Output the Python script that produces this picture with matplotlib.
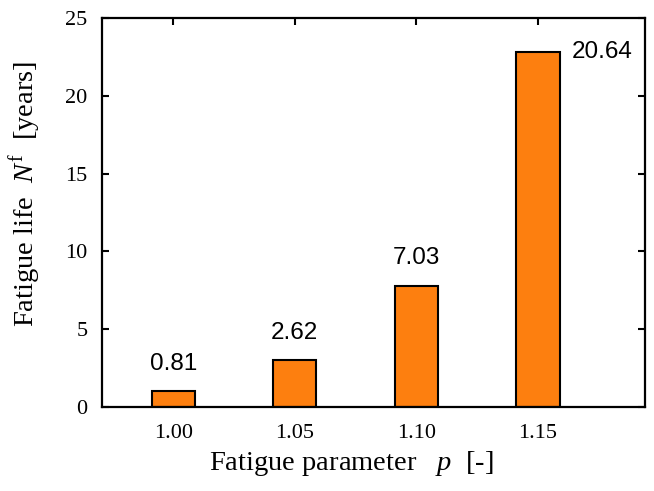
import numpy as np
import matplotlib
matplotlib.use("Agg")
import matplotlib.pyplot as plt

# data
p_labels = ["1.00", "1.05", "1.10", "1.15"]
bar_heights = [1.0, 3.0, 7.8, 22.8]
value_texts = ["0.81", "2.62", "7.03", "20.64"]

plt.rcParams["font.family"] = "Liberation Serif"
plt.rcParams["mathtext.fontset"] = "custom"
plt.rcParams["mathtext.rm"] = "Liberation Serif"
plt.rcParams["mathtext.it"] = "Liberation Serif:italic"

fig = plt.figure(figsize=(6.54, 4.91), dpi=100)
ax = fig.add_axes([101.5 / 654, 1 - 407 / 491, (645 - 101.5) / 654, (407 - 18) / 491])

x = np.arange(len(p_labels))
bars = ax.bar(x, bar_heights, width=0.355, color="#fd7f0f", edgecolor="black",
              linewidth=1.5, zorder=2)

for i, (b, t) in enumerate(zip(bars, value_texts)):
    h = b.get_height()
    if i < len(bars) - 1:
        ax.annotate(t, (b.get_x() + b.get_width() / 2, h), xytext=(0, 12),
                    textcoords="offset points", ha="center", va="bottom",
                    fontsize=17.5, family="Liberation Sans")
    else:
        ax.annotate(t, (b.get_x() + b.get_width(), h), xytext=(9, 0),
                    textcoords="offset points", ha="left", va="center",
                    fontsize=17.5, family="Liberation Sans")

ax.set_xlim(-0.59, 3.88)
ax.set_ylim(0, 25)
ax.set_xticks(x)
ax.set_xticklabels(p_labels)
ax.set_yticks([0, 5, 10, 15, 20, 25])
ax.tick_params(direction="in", top=True, right=True, length=5, width=1.5,
               labelsize=16, pad=12)
ax.tick_params(axis="y", pad=10)
for s in ax.spines.values():
    s.set_linewidth(1.6)

ax.set_xlabel(r"Fatigue parameter   $p$  [-]", fontsize=20.5)
ax.set_ylabel(r"Fatigue life  $N^{\mathrm{f}}$  [years]", fontsize=20.5)
ax.xaxis.set_label_coords(0.459, -0.107)
ax.yaxis.set_label_coords(-0.107, 0.548)

fig.savefig("out.png", dpi=100)
